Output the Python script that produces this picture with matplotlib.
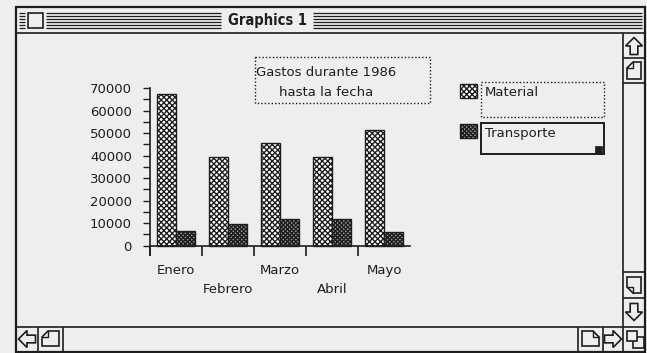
import numpy as np
import matplotlib.pyplot as plt
from matplotlib.patches import Rectangle, Polygon

# Datos del grafico
meses = ["Enero", "Febrero", "Marzo", "Abril", "Mayo"]
material = [67500, 39500, 45500, 39500, 51500]
transporte = [6500, 9500, 12000, 12000, 6000]
yticks = [0, 10000, 20000, 30000, 40000, 50000, 60000, 70000]
titulo = ["Gastos durante 1986", "hasta la fecha"]
series = ["Material", "Transporte"]

W, H = 647, 353
ink = '#1e1e1e'
bg = '#eeeeee'
trama_mat = 'xxxxxx'
trama_tra = 'xxxxxxxx'
gris_tra = '#9a9a9a'

plt.rcParams['font.family'] = 'DejaVu Sans'
plt.rcParams['hatch.linewidth'] = 1.0

fig = plt.figure(figsize=(W / 100, H / 100), dpi=100, facecolor=bg)

# ventana en coordenadas de pixel
win = fig.add_axes([0, 0, 1, 1])
win.set_xlim(0, W)
win.set_ylim(H, 0)
win.axis('off')


def line(x, y, lw=1.2):
    win.plot(x, y, color=ink, lw=lw, solid_capstyle='butt')


def arrow(cx, cy, d, s=8):
    # flecha hueca apuntando en la direccion d
    pts = np.array([(0, -s), (s, 0), (s * 0.45, 0), (s * 0.45, s),
                    (-s * 0.45, s), (-s * 0.45, 0), (-s, 0)], float)
    rot = {'up': 0, 'down': 180, 'left': 270, 'right': 90}[d]
    a = np.deg2rad(rot)
    R = np.array([[np.cos(a), -np.sin(a)], [np.sin(a), np.cos(a)]])
    pts = pts @ R.T
    pts[:, 0] += cx
    pts[:, 1] += cy
    win.add_patch(Polygon(pts, closed=True, fill=False, ec=ink, lw=1.2))


def page(x0, y0, w, h, corner, c=6):
    x1, y1 = x0 + w, y0 + h
    if corner == 'tl':
        pts = [(x0 + c, y0), (x1, y0), (x1, y1), (x0, y1), (x0, y0 + c)]
        fold = [(x0 + c, y0), (x0 + c, y0 + c), (x0, y0 + c)]
    elif corner == 'tr':
        pts = [(x0, y0), (x1 - c, y0), (x1, y0 + c), (x1, y1), (x0, y1)]
        fold = [(x1 - c, y0), (x1 - c, y0 + c), (x1, y0 + c)]
    else:
        pts = [(x0, y0), (x1, y0), (x1, y1), (x0 + c, y1), (x0, y1 - c)]
        fold = [(x0, y1 - c), (x0 + c, y1 - c), (x0 + c, y1)]
    win.add_patch(Polygon(pts, closed=True, fill=False, ec=ink, lw=1.2))
    win.plot([p[0] for p in fold], [p[1] for p in fold], color=ink, lw=1.0)


def grow(x0, y0):
    win.add_patch(Rectangle((x0 + 6, y0 + 6), 11, 11, fill=False, ec=ink, lw=1.2))
    win.add_patch(Rectangle((x0, y0), 10, 10, fc=bg, ec=ink, lw=1.2))


# marco de la ventana
win.add_patch(Rectangle((16, 7), 629, 345, fill=False, ec=ink, lw=1.6))
line([16, 645], [33, 33])

# barra de titulo
for y in [13, 16, 19, 22, 25, 28]:
    line([19, 25], [y, y], 0.9)
    line([46, 221], [y, y], 0.9)
    line([313, 642], [y, y], 0.9)
win.add_patch(Rectangle((28, 13), 15, 15, fc=bg, ec=ink, lw=1.2))
win.text(267, 20, "Graphics 1", ha='center', va='center',
         fontsize=10.5, fontweight='bold', color=ink, fontstretch='condensed')

# barras de desplazamiento
line([623, 623], [33, 352])
line([16, 645], [327, 327])
for y in [58, 83, 272, 298]:
    line([623, 645], [y, y])
for x in [38, 63, 578, 603]:
    line([x, x], [327, 352])
arrow(634, 46, 'up', 8.5)
page(627, 62, 14, 17, 'tl')
page(627, 277, 14, 16, 'bl')
arrow(634, 312, 'down', 8.5)
arrow(27, 339, 'left', 8.5)
page(42, 331, 17, 15, 'tl')
page(582, 331, 17, 15, 'tr')
arrow(613, 339, 'right', 8.5)
grow(627, 331)

# cuadro del titulo del grafico
win.add_patch(Rectangle((255, 57), 175, 46, fill=False, ec=ink, lw=1,
                        ls=(0, (1, 1.5))))
win.text(326, 73, titulo[0], ha='center', va='center', fontsize=9.5, color=ink)
win.text(326, 93, titulo[1], ha='center', va='center', fontsize=9.5, color=ink)

# leyenda
win.add_patch(Rectangle((460, 84), 17, 14, fc='white', ec=ink, lw=1, hatch=trama_mat))
win.add_patch(Rectangle((481, 82), 123, 35, fill=False, ec=ink, lw=1,
                        ls=(0, (1, 1.5))))
win.text(485, 93, series[0], ha='left', va='center', fontsize=9.5, color=ink)
win.add_patch(Rectangle((460, 124), 17, 14, fc=gris_tra, ec=ink, lw=1, hatch=trama_tra))
win.add_patch(Rectangle((481, 123), 123, 31, fill=False, ec=ink, lw=1.4))
win.text(485, 134, series[1], ha='left', va='center', fontsize=9.5, color=ink)
win.add_patch(Rectangle((595, 146), 7, 7, fc=ink, ec=ink, lw=0.5))

# grafico de barras
ax = fig.add_axes([150 / W, 1 - 255.4 / H, 260 / W, (255.4 - 88) / H])
ax.set_facecolor('none')
x = np.arange(len(meses))
ax.bar(x + 0.14, material, width=0.36, align='edge', color='white',
       edgecolor=ink, hatch=trama_mat, lw=1)
ax.bar(x + 0.5, transporte, width=0.36, align='edge', color=gris_tra,
       edgecolor=ink, hatch=trama_tra, lw=1)
ax.set_xlim(0, 5)
ax.set_ylim(-4300, 70000)
for s in ['top', 'right']:
    ax.spines[s].set_visible(False)
ax.spines['bottom'].set_position(('data', 0))
for s in ['left', 'bottom']:
    ax.spines[s].set_color(ink)
    ax.spines[s].set_linewidth(1.2)
ax.set_xticks(x)
ax.set_xticklabels([])
ax.tick_params(axis='x', direction='out', length=7, width=1.2, color=ink)
ax.set_yticks(yticks)
ax.set_yticklabels([str(v) for v in yticks])
ax.set_yticks(np.arange(5000, 70000, 10000), minor=True)
ax.tick_params(axis='y', which='both', direction='out', length=5, width=1,
               color=ink, pad=8, labelsize=9.5, labelcolor=ink)
for i, m in enumerate(meses):
    ax.annotate(m, xy=(i + 0.5, 0), xytext=(0, -25 if i % 2 == 0 else -44),
                textcoords='offset pixels', ha='center', va='center',
                fontsize=9.5, color=ink, annotation_clip=False)

fig.savefig('out.png', dpi=100, facecolor=bg)
